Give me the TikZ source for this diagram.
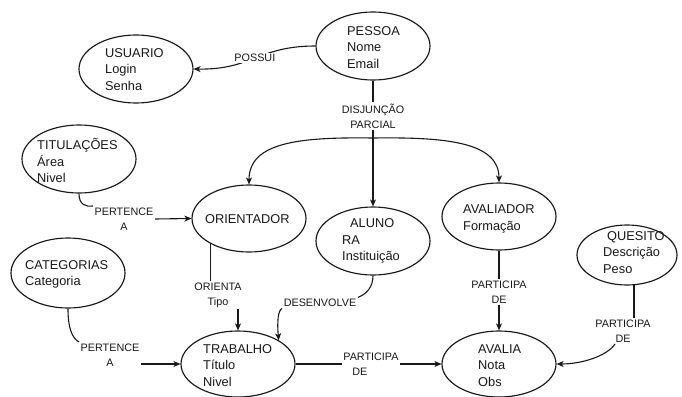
\documentclass[tikz,border=0pt]{standalone}
\usepackage{fontspec}
\setmainfont{Liberation Sans}
\usetikzlibrary{shapes.geometric, arrows.meta, calc}
\begin{document}
\begin{tikzpicture}[x=1pt, y=-1pt,
  ent/.style={ellipse, draw=black!90, line width=1.15pt, inner sep=0pt, minimum width=114pt, minimum height=68pt},
  etxt/.style={anchor=west, align=left, inner sep=0pt, font=\fontsize{12.8}{16.5}\selectfont, text=black!90},
  lbl/.style={align=center, inner sep=1.5pt, fill=white, font=\fontsize{10.8}{15}\selectfont, text=black!90},
  con/.style={draw=black!90, line width=1.1pt},
  arr/.style={con, -{Stealth[length=7pt,width=6pt,inset=2pt]}},
]
\fill[white] (0,0) rectangle (682,396);
\useasboundingbox (0,0) rectangle (682,396);

% entities
\node[ent] (p) at (373,46) {};
\node[etxt] (pt) at (347,47.5) {PESSOA\\Nome\\Email};
\node[ent] (u) at (136,69) {};
\node[etxt] (ut) at (105,69.5) {USUARIO\\Login\\Senha};
\node[ent] (ti) at (79,159) {};
\node[etxt] (tit) at (37,160.5) {TITULAÇÕES\\Área\\Nivel};
\node[ent, minimum height=67pt] (o) at (249,218.5) {};
\node[etxt] (ot) at (205,219) {ORIENTADOR};
\node[ent] (al) at (373,241) {};
\node[etxt] (alt) at (342,241) {\hspace*{8pt}ALUNO\\RA\\Instituição};
\node[ent, minimum height=67pt] (avr) at (499,216.5) {};
\node[etxt] (avrt) at (463,219) {AVALIADOR\\Formação};
\node[ent, minimum width=100pt, minimum height=60pt] (q) at (627,255) {};
\node[etxt] (qt) at (603,252.5) {\hspace*{4pt}QUESITO\\Descrição\\Peso};
\node[ent, minimum height=70pt] (c) at (68,273) {};
\node[etxt] (ct) at (25,274.5) {CATEGORIAS\\Categoria};
\node[ent, minimum height=66pt] (tr) at (238,364) {};
\node[etxt] (trt) at (203,365.5) {TRABALHO\\Título\\Nivel};
\node[ent, minimum height=66pt] (ava) at (499,364) {};
\node[etxt] (avat) at (478,365.5) {AVALIA\\Nota\\Obs};

% PESSOA -> USUARIO
\draw[arr] (p.west) .. controls (258,46) and (252,70) .. node[lbl] (possui) {POSSUI} (u.east);

% PESSOA -> specialisations
\draw[arr] (p.south) -- node[lbl, pos=0.28] (disj) {DISJUNÇÃO\\PARCIAL} (al.north);
\coordinate (split) at (373,138);
\draw[arr] (split) .. controls (300,137) and (249,142) .. (o.north);
\draw[arr] (split) .. controls (446,137) and (499,142) .. (avr.north);

% TITULACOES -> ORIENTADOR
\node[lbl] (pert1) at (124,219) {PERTENCE\\A};
\draw[con] (ti.south) .. controls (79,205) and (86,207) .. (pert1.north west);
\draw[arr] (pert1.east) -- (o.west);

% CATEGORIAS -> TRABALHO
\node[lbl] (pert2) at (110,355) {PERTENCE\\A};
\draw[con] (c.south) .. controls (68,328) and (72,338) .. (pert2.north west);
\draw[arr] (tr.west -| pert2.east) -- (tr.west);

% ORIENTADOR -> TRABALHO
\node[lbl] (ori) at (218,295) {ORIENTA\\Tipo};
\draw[con] (o.213) -- (o.213 |- ori.north);
\draw[arr] (tr.north |- ori.south) -- (tr.north);

% ALUNO -> TRABALHO
\node[lbl] (des) at (320,303) {DESENVOLVE};
\draw[con] (al.south) .. controls (373,288) and (366,294) .. (des.north east);
\draw[arr] (des.south west) .. controls (278,310) and (277,322) .. (tr.north east);

% TRABALHO -> AVALIA
\draw[arr] (tr.east) -- node[lbl, align=left, pos=0.517] (part1) {PARTICIPA\\\hspace*{9pt}DE} (ava.west);

% AVALIADOR -> AVALIA
\draw[arr] (avr.south) -- node[lbl, pos=0.52] (part2) {PARTICIPA\\DE} (ava.north);

% QUESITO -> AVALIA
\node[lbl] (part3) at (623,331) {PARTICIPA\\DE};
\draw[con] (q.283) -- (q.283 |- part3.north);
\draw[arr] ($(part3.south)+(-8,0)$) .. controls (607,356) and (582,364) .. (ava.east);
\end{tikzpicture}
\end{document}
